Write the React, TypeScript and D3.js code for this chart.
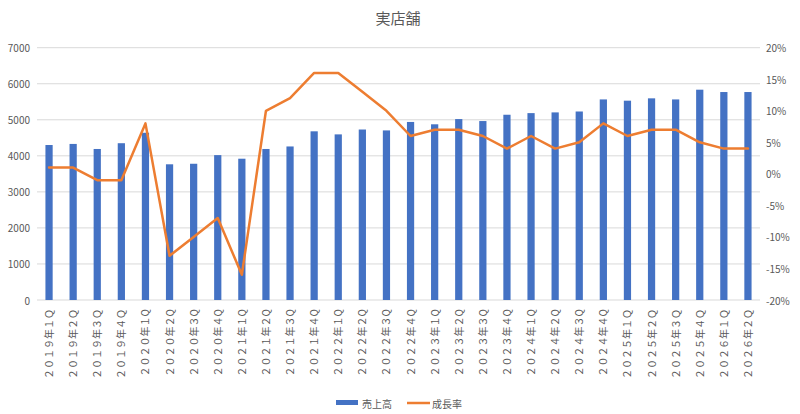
import * as d3 from 'd3';

const QUARTERS = [
  '２０１９年１Ｑ', '２０１９年２Ｑ', '２０１９年３Ｑ', '２０１９年４Ｑ',
  '２０２０年１Q', '２０２０年２Q', '２０２０年３Q', '２０２０年４Q',
  '２０２１年１Q', '２０２１年２Q', '２０２１年３Q', '２０２１年４Q',
  '２０２２年１Q', '２０２２年２Q', '２０２２年３Q', '２０２２年４Q',
  '２０２３年１Q', '２０２３年２Q', '２０２３年３Q', '２０２３年４Q',
  '２０２４年１Q', '２０２４年２Q', '２０２４年３Q', '２０２４年４Q',
  '２０２５年１Ｑ', '２０２５年２Ｑ', '２０２５年３Ｑ', '２０２５年４Ｑ',
  '２０２６年１Ｑ', '２０２６年２Ｑ',
];

const SALES = [
  4300, 4330, 4190, 4350, 4640, 3765, 3780, 4020, 3920, 4190,
  4260, 4680, 4595, 4730, 4705, 4940, 4875, 5020, 4965, 5140,
  5185, 5205, 5230, 5565, 5530, 5595, 5565, 5835, 5770, 5770,
];

const GROWTH = [
  1, 1, -1, -1, 8, -13, -10, -7, -16, 10,
  12, 16, 16, 13, 10, 6, 7, 7, 6, 4,
  6, 4, 5, 8, 6, 7, 7, 5, 4, 4,
];

const LEFT_TICKS = [0, 1000, 2000, 3000, 4000, 5000, 6000, 7000];
const RIGHT_TICKS = [-20, -15, -10, -5, 0, 5, 10, 15, 20];

const W = 800;
const H = 414;
const PLOT = { left: 37, right: 760, top: 47.7, bottom: 300 };
const FONT = '"Noto Sans CJK JP", "Noto Sans", sans-serif';
const TEXT = '#595959';
const BLUE = '#4472C4';
const ORANGE = '#ED7D31';

export default function App() {
  const x = d3.scaleBand<string>()
    .domain(QUARTERS)
    .range([PLOT.left, PLOT.right])
    .paddingInner(0.7)
    .paddingOuter(0.35);

  const yLeft = d3.scaleLinear().domain([0, 7000]).range([PLOT.bottom, PLOT.top]);
  const yRight = d3.scaleLinear().domain([-20, 20]).range([PLOT.bottom, PLOT.top]);

  const cx = (q: string) => (x(q) ?? 0) + x.bandwidth() / 2;

  const line = d3.line<number>()
    .x((_, i) => cx(QUARTERS[i]))
    .y((d) => yRight(d));

  return (
    <svg
      width={W}
      height={H}
      viewBox={`0 0 ${W} ${H}`}
      style={{ position: 'fixed', left: 0, top: 0, display: 'block', background: '#fff' }}
      fontFamily={FONT}
    >
      <text x={398} y={24} textAnchor="middle" fontSize={15} fill={TEXT}>
        実店舗
      </text>

      {/* grid + left axis labels */}
      {LEFT_TICKS.map((v) => (
        <g key={v}>
          <line
            x1={PLOT.left} x2={PLOT.right}
            y1={yLeft(v)} y2={yLeft(v)}
            stroke="#d9d9d9" strokeWidth={1}
          />
          <text
            x={30} y={yLeft(v)}
            textAnchor="end" dominantBaseline="central"
            fontSize={10} fill={TEXT}
          >
            {v}
          </text>
        </g>
      ))}

      {/* right axis labels */}
      {RIGHT_TICKS.map((v) => (
        <text
          key={v}
          x={766} y={yRight(v)}
          dominantBaseline="central"
          fontSize={10} fill={TEXT}
        >
          {v}%
        </text>
      ))}

      {/* bars */}
      {SALES.map((v, i) => (
        <rect
          key={QUARTERS[i]}
          x={x(QUARTERS[i])}
          y={yLeft(v)}
          width={x.bandwidth()}
          height={yLeft(0) - yLeft(v)}
          fill={BLUE}
        />
      ))}

      {/* growth line */}
      <path
        d={line(GROWTH) ?? ''}
        fill="none"
        stroke={ORANGE}
        strokeWidth={2.5}
        strokeLinejoin="round"
        strokeLinecap="round"
      />

      {/* x labels */}
      {QUARTERS.map((q) => (
        <text
          key={q}
          transform={`translate(${cx(q) + 4},${PLOT.bottom + 9}) rotate(-90)`}
          textAnchor="end"
          fontSize={10}
          fill={TEXT}
        >
          {q}
        </text>
      ))}

      {/* legend */}
      <rect x={336} y={400} width={22} height={5} fill={BLUE} />
      <text x={362} y={403} dominantBaseline="central" fontSize={10} fill={TEXT}>売上高</text>
      <line x1={407} x2={430} y1={403} y2={403} stroke={ORANGE} strokeWidth={2.5} />
      <text x={432} y={403} dominantBaseline="central" fontSize={10} fill={TEXT}>成長率</text>
    </svg>
  );
}
